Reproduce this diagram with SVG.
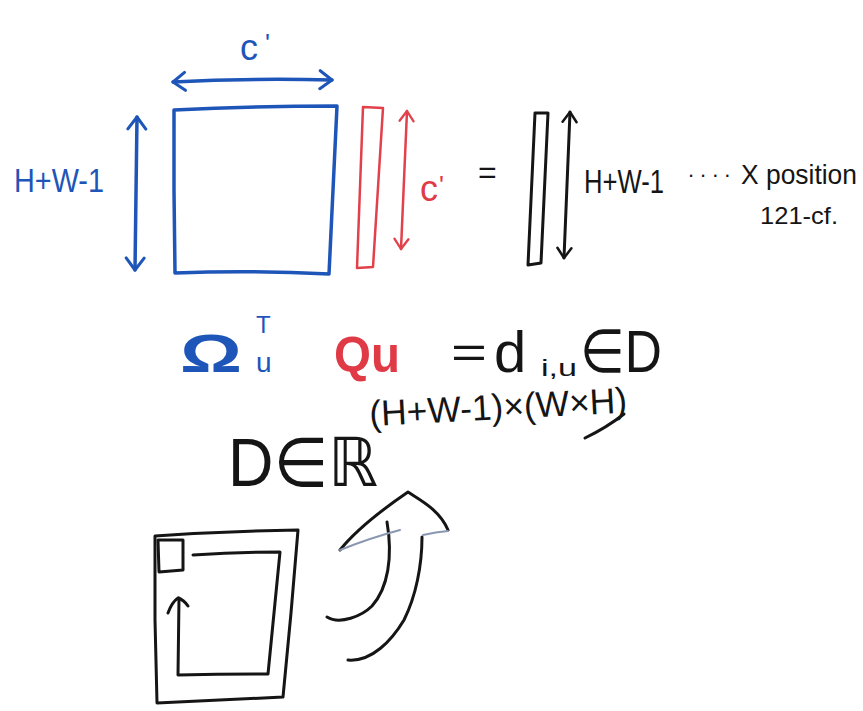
<svg xmlns="http://www.w3.org/2000/svg" width="863" height="711" viewBox="0 0 863 711">
  <style>
    .hand { font-family: "Liberation Sans", "DejaVu Sans", sans-serif; }
    .blue { fill: #1e55b8; }
    .red { fill: #e03a46; }
    .blk { fill: #151515; }
    .sb { fill: none; stroke: #1e55b8; stroke-width: 3.5; stroke-linecap: round; stroke-linejoin: round; }
    .sr { fill: none; stroke: #e2404b; stroke-width: 2.5; stroke-linecap: round; stroke-linejoin: round; }
    .sk { fill: none; stroke: #151515; stroke-width: 3; stroke-linecap: round; stroke-linejoin: round; }
  </style>
  <defs>
    <marker id="ah-blue" viewBox="-2 -11 16 22" markerWidth="16" markerHeight="22" refX="12" refY="0" orient="auto-start-reverse" markerUnits="userSpaceOnUse">
      <path d="M0,-9 L12,0 L0,9" fill="none" stroke="#1e55b8" stroke-width="3" stroke-linecap="round" stroke-linejoin="round"/>
    </marker>
    <marker id="ah-red" viewBox="-2 -9 14 18" markerWidth="14" markerHeight="18" refX="10" refY="0" orient="auto-start-reverse" markerUnits="userSpaceOnUse">
      <path d="M0,-7 L10,0 L0,7" fill="none" stroke="#e2404b" stroke-width="2.3" stroke-linecap="round" stroke-linejoin="round"/>
    </marker>
    <marker id="ah-black" viewBox="-2 -9 14 18" markerWidth="14" markerHeight="18" refX="10" refY="0" orient="auto-start-reverse" markerUnits="userSpaceOnUse">
      <path d="M0,-7 L10,0 L0,7" fill="none" stroke="#151515" stroke-width="2.5" stroke-linecap="round" stroke-linejoin="round"/>
    </marker>
  </defs>

  <rect width="863" height="711" fill="#ffffff"/>

  <!-- blue matrix -->
  <g id="blue-matrix">
    <path class="sb" d="M174,110 Q255,106 337,106 L333,190 L329,274 Q252,270 175,273 L174,190 Z"/>
    <text class="hand blue" x="240" y="60" font-size="36">c</text>
    <text class="hand blue" x="265" y="52" font-size="26">'</text>
    <text class="hand blue" x="14" y="192" font-size="34" textLength="90" lengthAdjust="spacingAndGlyphs">H+W-1</text>
  </g>

  <!-- red vector -->
  <g id="red-vector">
    <path class="sr" d="M363,107 L383,108 L373,267 L357,268 Z"/>
    <text class="hand red" x="420" y="201" font-size="36">c</text>
    <text class="hand red" x="439" y="194" font-size="26">'</text>
  </g>

  <text class="hand blk" x="478" y="183" font-size="32">=</text>

  <!-- black result vector -->
  <g id="result-vector">
    <path class="sk" d="M535,113 L548,113 L541,263 L528,265 Z" stroke-width="2.5"/>
    <text class="hand blk" x="584" y="193" font-size="34" textLength="80" lengthAdjust="spacingAndGlyphs">H+W-1</text>
    <text class="hand blk" x="688" y="177" font-size="22" letter-spacing="6">....</text>
    <text class="hand blk" x="741" y="184" font-size="28" textLength="116" lengthAdjust="spacingAndGlyphs">X position</text>
    <text class="hand blk" x="760" y="224" font-size="24" textLength="78" lengthAdjust="spacingAndGlyphs">121-cf.</text>
  </g>

  <!-- connectors / dimension arrows -->
  <g id="connectors">
    <path class="sb" d="M173,82 Q250,78 332,80" marker-start="url(#ah-blue)" marker-end="url(#ah-blue)" stroke-width="3"/>
    <path class="sb" d="M137,117 L135,270" marker-start="url(#ah-blue)" marker-end="url(#ah-blue)" stroke-width="3"/>
    <path class="sr" d="M407,111 L401,249" marker-start="url(#ah-red)" marker-end="url(#ah-red)"/>
    <path class="sk" d="M570,112 L564,258" marker-start="url(#ah-black)" marker-end="url(#ah-black)" stroke-width="2.5"/>
  </g>

  <!-- formula -->
  <g id="formula">
    <text class="hand blue" x="180" y="372" font-size="54" font-weight="bold" textLength="62" lengthAdjust="spacingAndGlyphs">Ω</text>
    <text class="hand blue" x="256" y="333" font-size="24">T</text>
    <text class="hand blue" x="256" y="372" font-size="28">u</text>
    <text class="hand red" x="334" y="372" font-size="50" font-weight="bold" textLength="66" lengthAdjust="spacingAndGlyphs">Qu</text>
    <text class="hand blk" x="451" y="368" font-size="44" textLength="36" lengthAdjust="spacingAndGlyphs">=</text>
    <text class="hand blk" x="494" y="372" font-size="58">d</text>
    <text class="hand blk" x="541" y="376" font-size="24" textLength="36" lengthAdjust="spacingAndGlyphs">i,u</text>
    <text class="hand blk" x="580" y="372" font-size="60" textLength="82" lengthAdjust="spacingAndGlyphs">∈D</text>
    <text class="hand blk" x="370" y="426" font-size="36" textLength="258" lengthAdjust="spacingAndGlyphs" transform="rotate(-3 370 426)">(H+W-1)×(W×H)</text>
    <path class="sk" d="M585,438 Q606,428 624,414" stroke-width="2.5"/>
    <text class="hand blk" x="228" y="486" font-size="68" textLength="150" lengthAdjust="spacingAndGlyphs">D∈ℝ</text>
  </g>

  <!-- scan order sketch -->
  <g id="scan-grid">
    <path class="sk" d="M155,536 Q226,531 298,530 L291,613 L283,697 Q220,700 157,703 L155,620 Z"/>
    <path class="sk" d="M158,540 L183,540 L183,570 L159,572 Z" fill="#e9e3d0" stroke-width="2.5"/>
    <path class="sk" d="M193,555 Q237,552 280,552 L274,613 L268,674 Q223,674 178,675 L179,598"/>
    <path class="sk" d="M168,613 Q172,602 178,598 Q184,600 188,606" stroke-width="2.5"/>
  </g>

  <!-- curved arrow -->
  <g id="curved-arrow">
    <path class="sk" d="M327,617 C340,625 362,616 372,606 C388,588 393,557 387,522" stroke-width="2.5"/>
    <path class="sk" d="M348,660 C372,662 392,640 404,620 C416,596 422,565 422,537" stroke-width="2.5"/>
    <path class="sk" d="M340,550 C352,535 370,518 408,492 C420,500 440,510 448,530" stroke-width="2.5"/>
    <path d="M340,550 Q370,538 400,530" fill="none" stroke="#8a97b0" stroke-width="2" stroke-linecap="round"/>
    <path d="M423,535 Q436,532 448,531" fill="none" stroke="#8a97b0" stroke-width="2" stroke-linecap="round"/>
  </g>
</svg>
